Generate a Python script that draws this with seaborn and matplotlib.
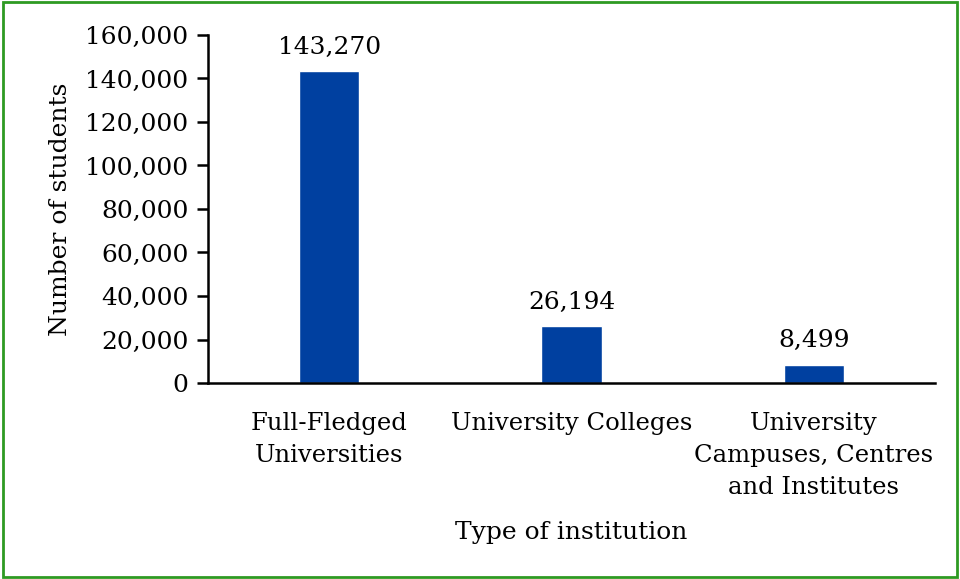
import matplotlib
matplotlib.use("Agg")
import matplotlib.pyplot as plt
import seaborn as sns
import pandas as pd
from matplotlib.patches import Rectangle
from matplotlib.ticker import FuncFormatter

categories = ["Full-Fledged\nUniversities", "University Colleges",
              "University\nCampuses, Centres\nand Institutes"]
students = [143270, 26194, 8499]

sns.set_theme(style="white")
plt.rcParams['font.family'] = ['DejaVu Serif']
plt.rcParams['text.color'] = 'black'
plt.rcParams['axes.labelcolor'] = 'black'
plt.rcParams['xtick.color'] = 'black'
plt.rcParams['ytick.color'] = 'black'

df = pd.DataFrame({"cat": categories, "n": students})

fig = plt.figure(figsize=(9.6, 5.79), dpi=100)
ax = fig.add_axes([0.2167, 0.3385, 0.7573, 0.6011])
sns.barplot(data=df, x="cat", y="n", color="#0040A0", width=0.25,
            saturation=1, ax=ax)
ax.set_xlim(-0.5, 2.5)
ax.set_ylim(0, 160000)
ax.set_yticks(range(0, 160001, 20000))
ax.yaxis.set_major_formatter(FuncFormatter(lambda v, p: f"{int(v):,}"))
for s in ["top", "right"]:
    ax.spines[s].set_visible(False)
for s in ["left", "bottom"]:
    ax.spines[s].set_color("black")
    ax.spines[s].set_linewidth(1.8)
ax.tick_params(axis="y", left=True, length=8, width=1.8, color="black",
               labelsize=18, pad=6, labelcolor="black")
ax.tick_params(axis="x", bottom=False, labelsize=17.5, pad=15, labelcolor="black")
ax.set_ylabel("Number of students", fontsize=18, labelpad=10, color="black")
ax.set_xlabel("Type of institution", fontsize=18, labelpad=16, color="black")
for lbl in ax.get_xticklabels():
    lbl.set_linespacing(1.5)

for i, v in enumerate(students):
    ax.annotate(f"{v:,}", (i, v), xytext=(0, 9), textcoords="offset points",
                ha="center", va="bottom", fontsize=18, color="black")

fig.patches.append(Rectangle((0.003, 0.004), 0.994, 0.992, transform=fig.transFigure,
                             fill=False, edgecolor="#2E9A22", linewidth=2))
fig.savefig("out.png", dpi=100)
